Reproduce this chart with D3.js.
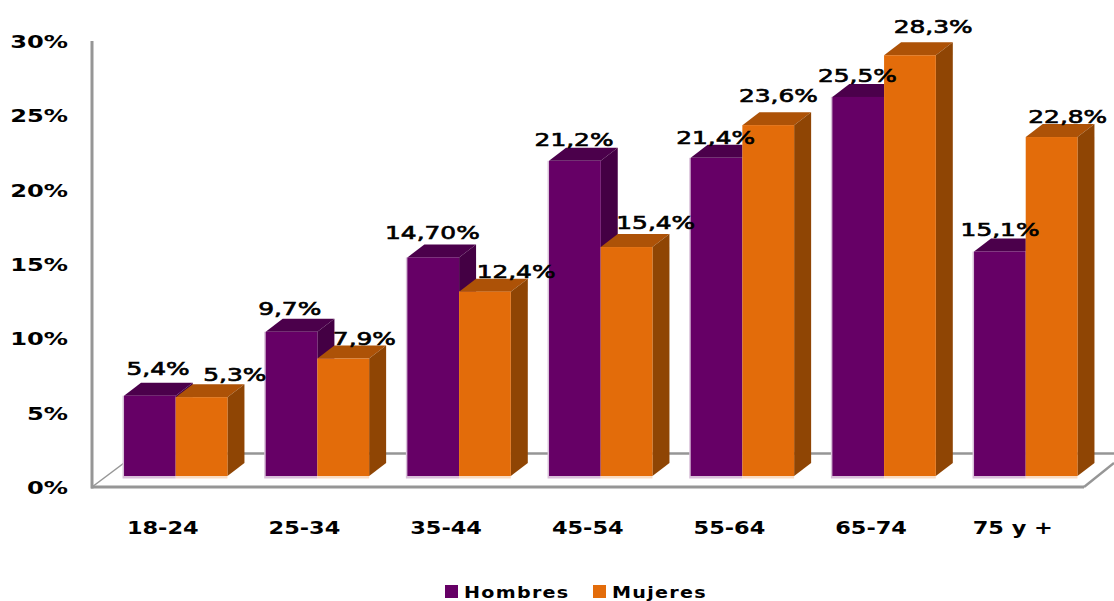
<!DOCTYPE html>
<html><head><meta charset="utf-8">
<script src="https://cdn.jsdelivr.net/npm/d3@7"></script>
<style>html,body{margin:0;padding:0;background:#fff;overflow:hidden}svg{display:block}text{font-family:"DejaVu Sans",sans-serif;fill:#000}</style>
</head><body><svg id="c" width="1114" height="601"></svg>
<script>
const categories=["18-24","25-34","35-44","45-54","55-64","65-74","75 y +"];
const hombres=[5.4,9.7,14.7,21.2,21.4,25.5,15.1];
const mujeres=[5.3,7.9,12.4,15.4,23.6,28.3,22.8];
const hombresLabels=["5,4%","9,7%","14,70%","21,2%","21,4%","25,5%","15,1%"];
const mujeresLabels=["5,3%","7,9%","12,4%","15,4%","23,6%","28,3%","22,8%"];
const yTicks=[0,5,10,15,20,25,30];
const seriesNames=["Hombres","Mujeres"];
// layout-only label nudges (from bar's left edge / top edge)
const hombresNudge=[[34,-21],[24,-17],[25,-18],[25,-15],[25,-14],[25,-15],[26,-16]];
const mujeresNudge=[[59,-16],[47,-14],[57,-14],[55,-18],[36,-23],[49,-22],[42,-14]];

const svg=d3.select("#c");
const axisX0=92, axisX1=1084, floorY=487, depthX=17, depthY=13;
const yAxis=d3.scaleLinear().domain([0,30]).range([floorY,41]);
const yBar=d3.scaleLinear().domain([0,30]).range([476,30]);
const x=d3.scaleBand().domain(categories).range([95.7,1105.8]).paddingInner(0.27).paddingOuter(0.2);
const x1=d3.scaleBand().domain(seriesNames).range([0,x.bandwidth()]);
const pal={Hombres:{front:"#660066",top:"#4b004b",side:"#440044",edge:"#d9c0d9"},
           Mujeres:{front:"#e36c0a",top:"#ad5207",side:"#8f4504",edge:"#f9dcc4"}};
const grey="#969696";

// walls and floor
const g=svg.append("g");
g.append("line").attr("x1",axisX0).attr("x2",axisX0).attr("y1",yAxis(30)).attr("y2",floorY+1.5).attr("stroke",grey).attr("stroke-width",3);
g.append("line").attr("x1",axisX0-1).attr("x2",axisX1).attr("y1",floorY).attr("y2",floorY).attr("stroke",grey).attr("stroke-width",3);
g.append("line").attr("x1",124).attr("x2",1114).attr("y1",453.5).attr("y2",453.5).attr("stroke",grey).attr("stroke-width",2.5);
g.append("line").attr("x1",axisX0).attr("x2",124).attr("y1",floorY).attr("y2",463).attr("stroke",grey).attr("stroke-width",1.5);
g.append("line").attr("x1",axisX1).attr("x2",1114).attr("y1",floorY).attr("y2",463).attr("stroke",grey).attr("stroke-width",2.5);

// bars
function bars(name,vals){
  const c=pal[name];
  const cell=svg.append("g").selectAll("g").data(vals).join("g")
    .attr("transform",(d,i)=>`translate(${x(categories[i])+x1(name)},0)`);
  const w=x1.bandwidth(), b=yBar(0);
  cell.append("rect").attr("x",name==="Hombres"?-1.5:0).attr("y",d=>yBar(d)).attr("width",w+(name==="Hombres"?1.5:0)).attr("height",d=>b-yBar(d)+2.5).attr("fill",c.edge);
  cell.append("path").attr("fill",c.top).attr("d",d=>{const t=yBar(d);return `M0,${t}L${depthX},${t-depthY}H${w+depthX}L${w},${t}Z`;});
  cell.append("path").attr("fill",c.side).attr("d",d=>{const t=yBar(d);return `M${w},${t}L${w+depthX},${t-depthY}V${b-depthY}L${w},${b}Z`;});
  cell.append("rect").attr("x",0).attr("y",d=>yBar(d)).attr("width",w).attr("height",d=>b-yBar(d)).attr("fill",c.front);
}
bars("Hombres",hombres);
bars("Mujeres",mujeres);

function label(parent,s,px,py,anchor,weight,size,sx,extra){
  const t=parent.append("text").text(s)
    .attr("transform",`translate(${px},${py}) scale(${sx},1)`)
    .attr("text-anchor",anchor).attr("font-weight",weight).attr("font-size",size);
  if(extra){t.attr("stroke","#000").attr("stroke-width",extra);}
  return t;
}
const tg=svg.append("g");
yTicks.forEach(v=>label(tg,v+"%",68,yAxis(v)+7,"end","bold",17.5,1.38));
categories.forEach(c=>label(tg,c,x(c)+x.bandwidth()/2-13,534,"middle","bold",17,1.32));

function dataLabels(name,vals,strs,nudge){
  vals.forEach((v,i)=>{
    const l=x(categories[i])+x1(name);
    label(tg,strs[i],l+nudge[i][0],yBar(v)+nudge[i][1],"middle","normal",18,1.38,0.65);
  });
}
dataLabels("Hombres",hombres,hombresLabels,hombresNudge);
dataLabels("Mujeres",mujeres,mujeresLabels,mujeresNudge);

// legend
const legendX=d3.scalePoint().domain(seriesNames).range([445,593]);
seriesNames.forEach(n=>{
  const lx=legendX(n);
  svg.append("rect").attr("x",lx).attr("y",585).attr("width",13).attr("height",13).attr("fill",pal[n].front);
  label(tg,n,lx+19,598,"start","bold",16.5,1.16).attr("letter-spacing",1.1);
});
</script></body></html>
